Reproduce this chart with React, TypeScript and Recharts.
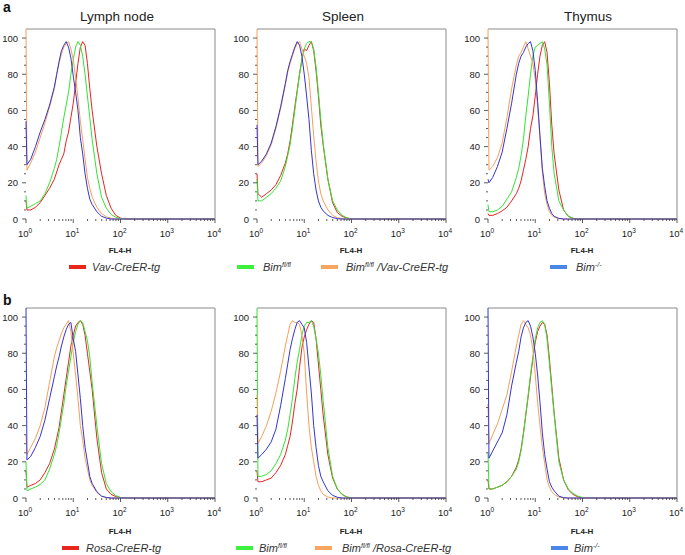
import React from "react";
import { LineChart, Line, XAxis, YAxis, ReferenceArea } from "recharts";

// FL4-H channel positions shared by every histogram (log axis)
const fl4Channels = [1, 1.047, 1.259, 1.585, 1.995, 2.512, 3.162, 3.981, 4.467, 5.012, 5.623, 6.31, 7.079, 7.943, 8.913, 10, 11.22, 12.59, 14.13, 15.85, 17.78, 19.95, 22.39, 25.12, 31.62, 39.81, 50.12, 63.1, 79.43, 100, 125.9, 10000];

const majorTicks = [1, 10, 100, 1000, 10000];
const minorTicks = [2, 3, 4, 5, 6, 7, 8, 9, 20, 30, 40, 50, 60, 70, 80, 90, 200, 300, 400, 500, 600, 700, 800, 900, 2000, 3000, 4000, 5000, 6000, 7000, 8000, 9000];
const yTicks = [0, 5, 10, 15, 20, 25, 30, 35, 40, 45, 50, 55, 60, 65, 70, 75, 80, 85, 90, 95, 100];
const yLabels = [0, 20, 40, 60, 80, 100];

// a: Vav-CreER
const lymphVav = [10, 5, 5, 6.5, 9, 13, 17, 22, 26, 30, 33, 36, 43, 48, 56, 64, 75, 86, 95, 98, 96, 86, 72, 60, 40, 25, 13, 6, 2, 0.5, 0, 0];
const lymphFlox = [13, 6, 7, 8.5, 10, 14, 20, 28, 33, 40, 48, 56, 63, 70, 80, 88, 95, 98, 96, 90, 80, 68, 56, 44, 25, 12, 6, 2.5, 1, 0.3, 0, 0];
const lymphFloxVav = [105, 27, 31, 37, 45, 53, 62, 72, 80, 86, 91, 95, 97, 98, 94, 88, 78, 67, 54, 44, 33, 23, 17, 12, 6.5, 3, 1.2, 0.4, 0, 0, 0, 0];
const lymphKo = [54, 30, 33, 40, 48, 55, 63, 73, 80, 87, 93, 96, 98, 95, 89, 79, 70, 60, 45, 36, 25, 17, 11, 8, 4, 1.5, 0.5, 0, 0, 0, 0, 0];

const spleenVav = [25, 14, 12, 14, 16, 19, 24, 31, 36, 43, 52, 62, 71, 80, 88, 94, 93, 96, 98, 93, 82, 68, 52, 41, 22, 9, 3.5, 1.5, 0.5, 0, 0, 0];
const spleenFlox = [22, 10, 10, 12, 14, 17, 21, 29, 35, 41, 50, 60, 70, 80, 88, 94, 97, 98, 98, 94, 84, 70, 55, 42, 22, 10, 5, 2, 0.7, 0, 0, 0];
const spleenFloxVav = [105, 29, 31, 35, 41, 50, 61, 74, 81, 86, 90, 94, 97, 98, 94, 90, 86, 78, 62, 46, 32, 21, 14, 10, 5, 2, 0.7, 0.2, 0, 0, 0, 0];
const spleenKo = [52, 30, 32, 36, 42, 51, 62, 75, 82, 87, 91, 95, 98, 96, 90, 80, 68, 55, 38, 25, 16, 10, 6.5, 4.5, 2, 0.8, 0.2, 0, 0, 0, 0, 0];

const thymusVav = [3, 2, 2, 3, 4.5, 6.5, 10, 14, 17, 21, 27, 33, 40, 50, 57, 68, 80, 90, 96, 98, 92, 75, 52, 36, 16, 5, 1.5, 0.4, 0, 0, 0, 0];
const thymusFlox = [8, 4, 4, 5, 7, 11, 15, 23, 28, 35, 44, 57, 68, 80, 90, 95, 96, 97, 98, 94, 85, 64, 40, 25, 10, 5, 1.5, 0.4, 0, 0, 0, 0];
const thymusFloxVav = [105, 27, 29, 34, 42, 56, 72, 85, 90, 92, 95, 98, 94, 90, 86, 77, 62, 45, 26, 14, 8, 4, 2, 1, 0.2, 0, 0, 0, 0, 0, 0, 0];
const thymusKo = [22, 20, 23, 29, 37, 50, 64, 80, 86, 90, 92, 95, 97, 98, 93, 82, 65, 46, 28, 18, 10, 6, 3, 1.5, 0.3, 0, 0, 0, 0, 0, 0, 0];

// b: Rosa-CreER
const lymphRosa = [15, 6, 7, 8, 10, 14, 19, 27, 33, 39, 48, 57, 66, 75, 84, 90, 95, 97, 98, 96, 90, 80, 70, 60, 33, 14, 5, 2, 0.8, 0.2, 0, 0];
const lymphFloxB = [20, 4, 5, 6, 7.5, 10, 16, 24, 29, 36, 44, 52, 62, 70, 78, 86, 92, 96, 98, 97, 92, 87, 78, 64, 40, 19, 8, 3.5, 1.3, 0.3, 0, 0];
const lymphFloxRosa = [35, 24, 28, 33, 40, 50, 64, 78, 83, 87, 91, 94, 96, 98, 92, 80, 68, 55, 40, 32, 22, 16, 10, 7, 3, 1, 0.2, 0, 0, 0, 0, 0];
const lymphKoB = [105, 21, 23, 28, 34, 43, 55, 67, 73, 78, 84, 89, 93, 96, 97, 88, 81, 68, 55, 40, 28, 20, 12, 8, 3.5, 1, 0.3, 0, 0, 0, 0, 0];

const spleenRosa = [15, 9, 9, 10, 11, 14, 18, 24, 29, 34, 42, 52, 60, 72, 83, 89, 93, 96, 98, 97, 88, 74, 60, 46, 24, 11, 5, 2, 0.5, 0, 0, 0];
const spleenFloxB = [105, 12, 12, 13, 15, 19, 24, 32, 38, 46, 55, 66, 75, 82, 90, 95, 97, 97, 98, 95, 88, 80, 68, 54, 28, 12, 5, 2, 0.6, 0.2, 0, 0];
const spleenFloxRosa = [57, 30, 34, 40, 48, 58, 70, 84, 90, 96, 98, 97, 97, 96, 90, 80, 58, 40, 28, 20, 12, 7, 4, 2, 0.5, 0, 0, 0, 0, 0, 0, 0];
const spleenKoB = [46, 22, 24, 27, 31, 38, 51, 66, 74, 82, 88, 93, 97, 98, 96, 94, 86, 72, 58, 40, 28, 18, 12, 9, 4, 1.5, 0.4, 0, 0, 0, 0, 0];

const thymusRosa = [10, 5, 5, 6, 7, 9, 12, 17, 21, 27, 36, 46, 56, 67, 77, 86, 92, 95, 97, 96, 90, 77, 62, 47, 22, 10, 4.5, 2, 0.6, 0, 0, 0];
const thymusFloxB = [25, 5, 5, 6, 7, 9, 12, 16, 20, 26, 35, 46, 57, 68, 78, 88, 94, 97, 98, 96, 88, 74, 60, 46, 20, 10, 5, 2.5, 1, 0.3, 0, 0];
const thymusFloxRosa = [52, 30, 35, 41, 49, 57, 70, 84, 90, 96, 98, 96, 94, 90, 82, 68, 53, 40, 28, 19, 10, 6, 3.5, 2, 0.5, 0, 0, 0, 0, 0, 0, 0];
const thymusKoB = [105, 22, 26, 31, 36, 46, 62, 75, 81, 89, 94, 97, 98, 95, 89, 80, 68, 53, 36, 24, 16, 9, 6, 4, 1, 0.2, 0, 0, 0, 0, 0, 0];

const tissues = ["Lymph node", "Spleen", "Thymus"];

const LINE = { red: "#e8231e", green: "#33e433", orange: "#f5a05a", blue: "#3434d4" };
const SWATCH = { red: "#e8261b", green: "#3ef03e", orange: "#f7a560", blue: "#4a86e8" };
const FONT = "'Liberation Sans', Arial, sans-serif";

const toRows = (red: number[], green: number[], orange: number[], blue: number[]) =>
  fl4Channels.map((x, i) => ({ x, red: red[i], green: green[i], orange: orange[i], blue: blue[i] }));

const panels = [
  { left: 0, top: 0, rows: toRows(lymphVav, lymphFlox, lymphFloxVav, lymphKo) },
  { left: 231, top: 0, rows: toRows(spleenVav, spleenFlox, spleenFloxVav, spleenKo) },
  { left: 462, top: 0, rows: toRows(thymusVav, thymusFlox, thymusFloxVav, thymusKo) },
  { left: 0, top: 279, rows: toRows(lymphRosa, lymphFloxB, lymphFloxRosa, lymphKoB) },
  { left: 231, top: 279, rows: toRows(spleenRosa, spleenFloxB, spleenFloxRosa, spleenKoB) },
  { left: 462, top: 279, rows: toRows(thymusRosa, thymusFloxB, thymusFloxRosa, thymusKoB) },
];

const xTicks = [...majorTicks, ...minorTicks].sort((a, b) => a - b);

const XTick = (props: any) => {
  const { x, y, payload } = props;
  const v = payload.value;
  const major = majorTicks.includes(v);
  return (
    <g>
      <line x1={x} x2={x} y1={y} y2={y + (major ? 4 : 2)} stroke="#333" strokeWidth={0.8} />
      {major && (
        <text x={x - 1} y={y + 18} textAnchor="middle" fontSize={9.5} fill="#222" fontFamily={FONT}>
          10
          <tspan dy={-4} fontSize={6.5}>
            {majorTicks.indexOf(v)}
          </tspan>
        </text>
      )}
    </g>
  );
};

const YTick = (props: any) => {
  const { x, y, payload } = props;
  const v = payload.value;
  const major = yLabels.includes(v);
  return (
    <g>
      <line x1={x - (major ? 4 : 2)} x2={x} y1={y} y2={y} stroke="#333" strokeWidth={0.8} />
      {major && (
        <text x={x - 8} y={y + 3.5} textAnchor="end" fontSize={9.5} fill="#222" fontFamily={FONT}>
          {v}
        </text>
      )}
    </g>
  );
};

function Histogram({ rows }: { rows: any[] }) {
  return (
    <LineChart width={223} height={260} data={rows} margin={{ top: 29, right: 8, bottom: 11, left: 0 }}>
      {/* grey frame: only top and right edges, the traces cover left and bottom */}
      <ReferenceArea
        x1={1}
        x2={10000}
        y1={0}
        y2={105}
        fill="none"
        stroke="#8a8a8a"
        strokeWidth={1}
        strokeDasharray="379 400"
      />
      <XAxis
        dataKey="x"
        type="number"
        scale="log"
        domain={[1, 10000]}
        ticks={xTicks}
        interval={0}
        tickSize={0}
        tickMargin={0}
        tickLine={false}
        height={30}
        axisLine={false}
        tick={<XTick />}
      />
      <YAxis
        type="number"
        domain={[0, 105]}
        ticks={yTicks}
        interval={0}
        tickSize={0}
        tickMargin={0}
        tickLine={false}
        width={26}
        axisLine={false}
        tick={<YTick />}
      />
      {(["red", "green", "orange", "blue"] as const).map((k) => (
        <Line
          key={k}
          dataKey={k}
          type="linear"
          stroke={LINE[k]}
          strokeWidth={1}
          dot={false}
          isAnimationActive={false}
        />
      ))}
    </LineChart>
  );
}

const Sup = ({ children }: { children: string }) => (
  <tspan dy={-4} fontSize={7}>
    {children}
  </tspan>
);

function LegendRow({ y, cre, pos }: { y: number; cre: string; pos: number[] }) {
  const [rs, rt, gs, gt, os, ot, bs, bt] = pos;
  const sw = (x: number, c: string) => <rect x={x} y={y - 2} width={17} height={4} fill={c} />;
  const txt = { fontSize: 11, fontStyle: "italic" as const, fill: "#333", fontFamily: FONT };
  return (
    <g>
      {sw(rs, SWATCH.red)}
      <text x={rt} y={y + 4} {...txt}>{cre}</text>
      {sw(gs, SWATCH.green)}
      <text x={gt} y={y + 4} {...txt}>
        Bim<Sup>fl/fl</Sup>
      </text>
      {sw(os, SWATCH.orange)}
      <text x={ot} y={y + 4} {...txt}>
        Bim<Sup>fl/fl</Sup>
        <tspan dy={4}> /{cre}</tspan>
      </text>
      {sw(bs, SWATCH.blue)}
      <text x={bt} y={y + 4} {...txt}>
        Bim<Sup>-/-</Sup>
      </text>
    </g>
  );
}

export default function App() {
  const titleX = [117, 343, 588];
  const plotCenters = [120, 351, 582];
  return (
    <div style={{ position: "absolute", left: 0, top: 0, width: 685, height: 555, background: "#fff" }}>
      {panels.map((p, i) => (
        <div key={i} style={{ position: "absolute", left: p.left, top: p.top }}>
          <Histogram rows={p.rows} />
        </div>
      ))}
      <svg width={685} height={555} style={{ position: "absolute", left: 0, top: 0, pointerEvents: "none" }}>
        <text x={3} y={12} fontSize={14} fontWeight="bold" fontFamily={FONT} fill="#111">a</text>
        <text x={3} y={305} fontSize={14} fontWeight="bold" fontFamily={FONT} fill="#111">b</text>
        {tissues.map((t, i) => (
          <text key={t} x={titleX[i]} y={21} textAnchor="middle" fontSize={13.5} fontFamily={FONT} fill="#222">
            {t}
          </text>
        ))}
        {plotCenters.map((cx) =>
          [253, 534].map((yy) => (
            <text key={`${cx}-${yy}`} x={cx} y={yy} textAnchor="middle" fontSize={8} fontWeight="bold" fontFamily={FONT} fill="#222">
              FL4-H
            </text>
          ))
        )}
        <LegendRow y={267} cre="Vav-CreER-tg" pos={[69, 92, 237, 263, 321, 346, 550, 576]} />
        <LegendRow y={548} cre="Rosa-CreER-tg" pos={[62, 86, 236, 259, 315, 342, 551, 574]} />
      </svg>
    </div>
  );
}
